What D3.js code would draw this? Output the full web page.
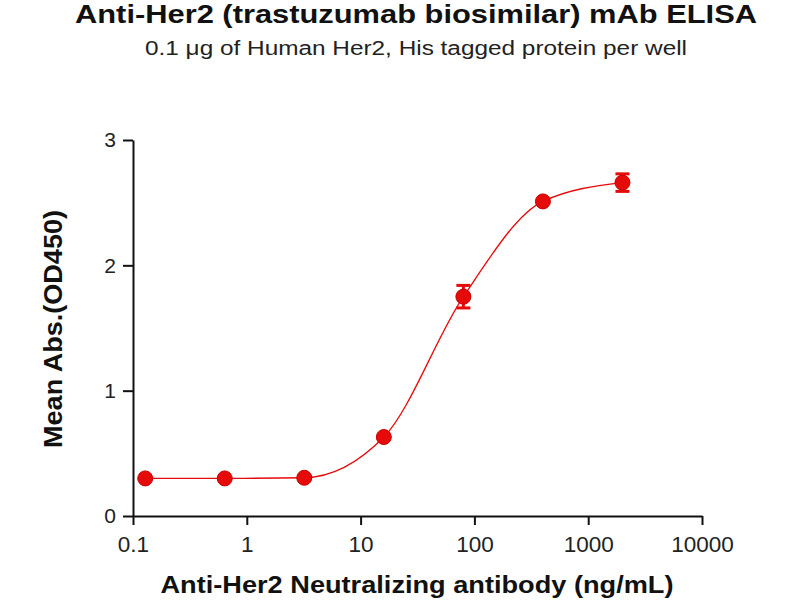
<!DOCTYPE html>
<html><head><meta charset="utf-8">
<script src="https://cdn.jsdelivr.net/npm/d3@7"></script>
<style>body{margin:0;background:#fff}svg{display:block}</style>
</head><body>
<svg id="chart" width="800" height="600"></svg>
<script>
// Data (5-fold dilution series)
const concentrations = [0.128, 0.64, 3.2, 16, 80, 400, 2000];
const meanAbs = [0.30, 0.30, 0.305, 0.63, 1.75, 2.51, 2.66];
const errAbs = [0.01, 0.01, 0.01, 0.02, 0.09, 0.01, 0.07];
const xTicks = [0.1, 1, 10, 100, 1000, 10000];
const xTickLabels = ["0.1", "1", "10", "100", "1000", "10000"];
const yTicks = [0, 1, 2, 3];

const titleText = "Anti-Her2 (trastuzumab biosimilar) mAb ELISA";
const subtitleText = "0.1 \u03bcg of Human Her2, His tagged protein per well";
const xLabel = "Anti-Her2 Neutralizing antibody (ng/mL)";
const yLabel = "Mean Abs.(OD450)";

const svg = d3.select("#chart");
const font = "'Liberation Sans', Arial, sans-serif";
const red = "#e60a0a";

const x = d3.scaleLog().domain([0.1, 10000]).range([133, 702]);
const y = d3.scaleLinear().domain([0, 3]).range([516, 140]);

// Axes
const xAxis = d3.axisBottom(x).tickValues(xTicks)
  .tickFormat((d, i) => xTickLabels[i]).tickSize(9).tickPadding(11).tickSizeOuter(0);
const gx = svg.append("g").attr("transform", `translate(0,${y(0)})`).call(xAxis);
gx.select(".domain").attr("stroke", "#111").attr("stroke-width", 2);
gx.selectAll(".tick line").attr("stroke", "#111").attr("stroke-width", 2);
gx.selectAll(".tick text").attr("font-family", font).attr("font-size", 22.5).attr("fill", "#222");

const yAxis = d3.axisLeft(y).tickValues(yTicks).tickFormat(d3.format("d"))
  .tickSize(10).tickPadding(7).tickSizeOuter(0);
const gy = svg.append("g").attr("transform", `translate(${x(0.1)},0)`).call(yAxis);
gy.select(".domain").attr("stroke", "#111").attr("stroke-width", 2);
gy.selectAll(".tick line").attr("stroke", "#111").attr("stroke-width", 2);
gy.selectAll(".tick text").attr("font-family", font).attr("font-size", 21).attr("fill", "#222");

// Curve through points
const pts = concentrations.map((c, i) => [x(c), y(meanAbs[i])]);
svg.append("path")
  .attr("d", d3.line().curve(d3.curveMonotoneX)(pts))
  .attr("fill", "none").attr("stroke", red).attr("stroke-width", 1.3);

// Error bars
const eb = svg.append("g").attr("stroke", red).attr("stroke-width", 3);
concentrations.forEach((c, i) => {
  if (errAbs[i] < 0.03) return;
  const cx = x(c), y1 = y(meanAbs[i] + errAbs[i]), y2 = y(meanAbs[i] - errAbs[i]);
  eb.append("line").attr("x1", cx).attr("x2", cx).attr("y1", y1).attr("y2", y2);
  eb.append("line").attr("x1", cx - 7).attr("x2", cx + 7).attr("y1", y1).attr("y2", y1);
  eb.append("line").attr("x1", cx - 7).attr("x2", cx + 7).attr("y1", y2).attr("y2", y2);
});

// Points
svg.append("g").selectAll("circle").data(concentrations).join("circle")
  .attr("cx", d => x(d)).attr("cy", (d, i) => y(meanAbs[i])).attr("r", 7.5)
  .attr("fill", red).attr("stroke", "#c80000").attr("stroke-width", 1);

// Titles
const cxText = 416;
svg.append("text").attr("x", cxText).attr("y", 23).attr("text-anchor", "middle")
  .attr("font-family", font).attr("font-weight", "bold").attr("font-size", 25)
  .attr("textLength", 682).attr("lengthAdjust", "spacingAndGlyphs")
  .attr("fill", "#111").text(titleText);
svg.append("text").attr("x", cxText).attr("y", 55).attr("text-anchor", "middle")
  .attr("font-family", font).attr("font-size", 20)
  .attr("textLength", 542).attr("lengthAdjust", "spacingAndGlyphs")
  .attr("fill", "#222").text(subtitleText);
svg.append("text").attr("x", 417).attr("y", 593).attr("text-anchor", "middle")
  .attr("font-family", font).attr("font-weight", "bold").attr("font-size", 24.5)
  .attr("textLength", 513).attr("lengthAdjust", "spacingAndGlyphs")
  .attr("fill", "#111").text(xLabel);
svg.append("text").attr("transform", `translate(62,329) rotate(-90)`)
  .attr("text-anchor", "middle")
  .attr("font-family", font).attr("font-weight", "bold").attr("font-size", 26)
  .attr("textLength", 238).attr("lengthAdjust", "spacingAndGlyphs")
  .attr("fill", "#111").text(yLabel);
</script>
</body></html>
